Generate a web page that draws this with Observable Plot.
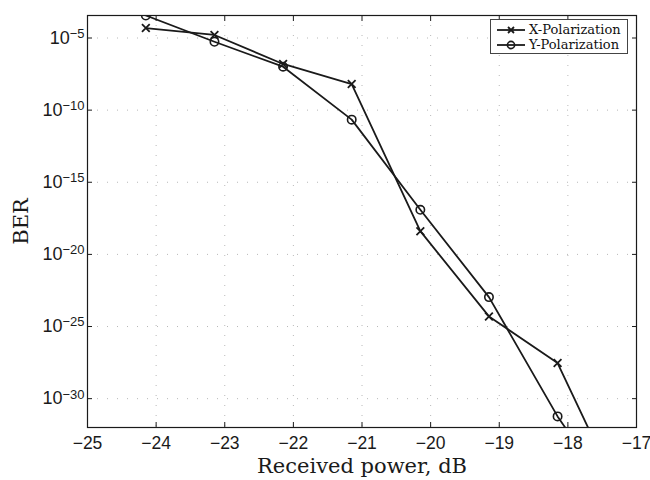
<!DOCTYPE html>
<html>
<head>
<meta charset="utf-8">
<script src="https://cdn.jsdelivr.net/npm/d3@7"></script>
<script src="https://cdn.jsdelivr.net/npm/@observablehq/plot@0.6"></script>
<style>
  body { margin: 0; background: #fff; }
  #wrap { position: relative; width: 650px; height: 480px; }
  #legend {
    position: absolute; left: 490px; top: 19px; width: 138px; height: 35px;
    border: 1px solid #444; background: #fff; box-sizing: border-box;
    font-family: "DejaVu Serif", serif; font-size: 13px; color: #111;
    padding: 2px 0 0 5px; line-height: 15px;
  }
  #legend .row { display: flex; align-items: center; height: 15px; white-space: nowrap; }
  #legend svg { margin-right: 3px; flex: none; }
</style>
</head>
<body>
<div id="wrap"><div id="legend"></div></div>
<script>
const power = [-24.15, -23.15, -22.15, -21.15, -20.15, -19.15, -18.15, -17.15];
const berXExp = [-4.31, -4.79, -6.80, -8.19, -18.39, -24.30, -27.53, -37.6];
const berYExp = [-3.44, -5.26, -6.99, -10.66, -16.91, -22.96, -31.23, -38.2];
const seriesNames = ["X-Polarization", "Y-Polarization"];
const xTicks = [-25, -24, -23, -22, -21, -20, -19, -18, -17];
const yTickExp = [-5, -10, -15, -20, -25, -30];
const yDomainExp = [-32, -3.44];

const xData = power.map((p, i) => ({power: p, ber: Math.pow(10, berXExp[i])}));
const yData = power.map((p, i) => ({power: p, ber: Math.pow(10, berYExp[i])}));
const yTicks = yTickExp.map(e => Math.pow(10, e));
const ink = "#1a1a1a";

const svg = Plot.plot({
  width: 650,
  height: 480,
  marginLeft: 87,
  marginRight: 14,
  marginTop: 15,
  marginBottom: 53,
  style: {background: "#fff", color: ink},
  x: {domain: [-25, -17]},
  y: {type: "log", domain: yDomainExp.map(e => Math.pow(10, e))},
  marks: [
    Plot.gridX(xTicks.slice(1, -1), {stroke: "#888", strokeOpacity: 0.6, strokeDasharray: "1,9"}),
    Plot.gridY(yTicks, {stroke: "#888", strokeOpacity: 0.6, strokeDasharray: "1,9"}),
    Plot.axisX(xTicks, {anchor: "bottom", tickSize: 0, tickPadding: 9, fontSize: 17.5, fontFamily: "Liberation Sans, Arial, sans-serif", label: null}),
    Plot.axisX(xTicks, {anchor: "bottom", tickSize: -5, tickFormat: () => "", label: null}),
    Plot.axisX(xTicks, {anchor: "top", tickSize: -5, tickFormat: () => "", label: null}),
    Plot.axisY(yTicks, {anchor: "left", tickSize: 0, tickPadding: 3, fontSize: 18, fontFamily: "Liberation Sans, Arial, sans-serif",
      tickFormat: d => String(Math.round(Math.log10(d))).replace("-", "\u2212"), label: null}),
    Plot.axisY(yTicks, {anchor: "left", tickSize: -5, tickFormat: () => "", label: null}),
    Plot.axisY(yTicks, {anchor: "right", tickSize: -5, tickFormat: () => "", label: null}),
    Plot.frame({stroke: ink, strokeWidth: 1.2}),
    Plot.line(xData, {x: "power", y: "ber", stroke: ink, strokeWidth: 1.8, clip: true}),
    Plot.line(yData, {x: "power", y: "ber", stroke: ink, strokeWidth: 1.8, clip: true}),
    Plot.dot(xData, {x: "power", y: "ber", symbol: "times", r: 3.6, stroke: ink, strokeWidth: 1.8, clip: true}),
    Plot.dot(yData, {x: "power", y: "ber", symbol: "circle", r: 4.2, stroke: ink, strokeWidth: 1.6, fill: "none", clip: true}),
    Plot.text(["Received power, dB"], {frameAnchor: "bottom", textAnchor: "middle", lineAnchor: "middle", dy: 39, fontSize: 21, fontFamily: "DejaVu Serif, serif", fill: ink}),
    Plot.text(["BER"], {frameAnchor: "left", textAnchor: "middle", lineAnchor: "middle", dx: -66, rotate: -90, fontSize: 21, fontFamily: "DejaVu Serif, serif", fill: ink})
  ]
});

// MATLAB-style superscript exponents for log ticks (only non-empty labels)
d3.select(svg).selectAll('g[aria-label="y-axis tick label"] text').each(function() {
  const t = d3.select(this);
  const s = t.text();
  if (!s) return;
  t.text("10");
  t.append("tspan").attr("dy", "-0.45em").attr("font-size", "13px").text(s);
});

document.getElementById("wrap").prepend(svg);

// Legend
const legend = document.getElementById("legend");
seriesNames.forEach((name, i) => {
  const row = document.createElement("div");
  row.className = "row";
  const marker = i === 0
    ? '<path d="M12,3L18,9M18,3L12,9" stroke="#1a1a1a" stroke-width="1.8"/>'
    : '<circle cx="15" cy="6" r="3.6" fill="none" stroke="#1a1a1a" stroke-width="1.6"/>';
  row.innerHTML = `<svg width="30" height="12"><line x1="1" y1="6" x2="29" y2="6" stroke="#1a1a1a" stroke-width="1.8"/>${marker}</svg><span>${name}</span>`;
  legend.appendChild(row);
});
</script>
</body>
</html>
